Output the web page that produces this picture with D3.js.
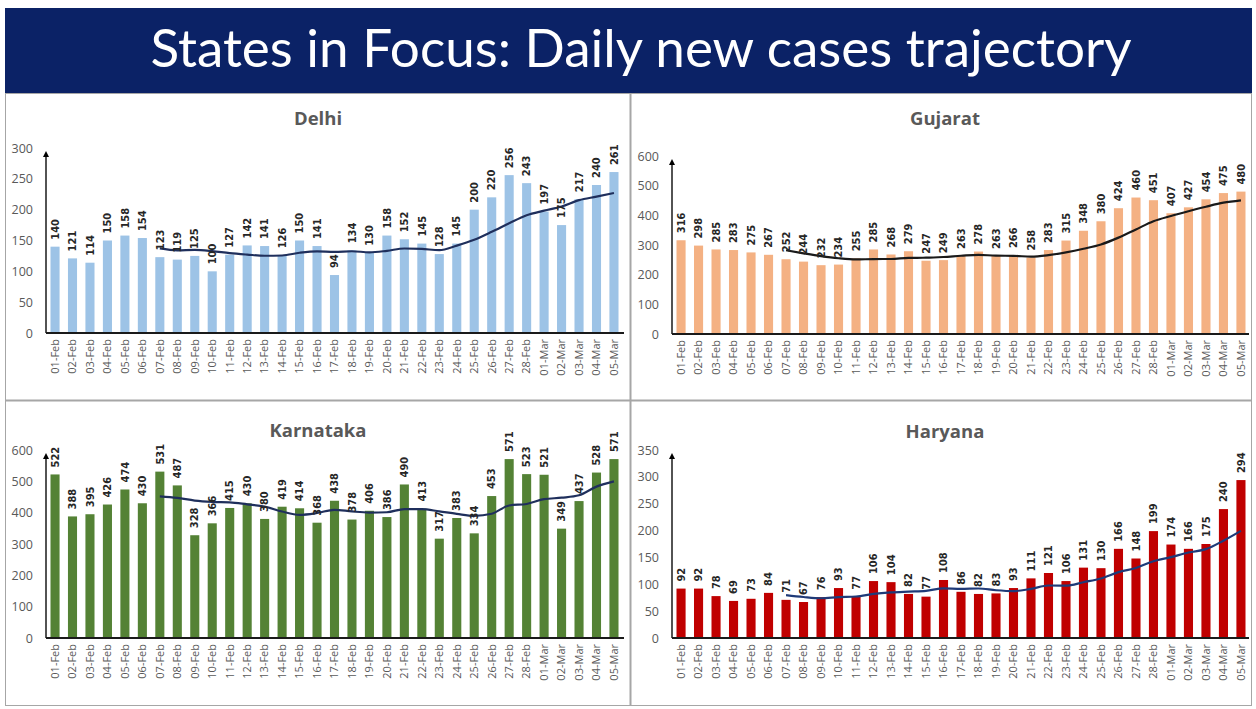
<!DOCTYPE html>
<html><head><meta charset="utf-8">
<script src="https://cdn.jsdelivr.net/npm/d3@7"></script>
<style>
html,body{margin:0;padding:0;background:#fff;}
svg{display:block;}
</style>
</head><body>
<svg id="c" width="1256" height="709"></svg>
<script>
const dates = ["01-Feb","02-Feb","03-Feb","04-Feb","05-Feb","06-Feb","07-Feb","08-Feb","09-Feb","10-Feb","11-Feb","12-Feb","13-Feb","14-Feb","15-Feb","16-Feb","17-Feb","18-Feb","19-Feb","20-Feb","21-Feb","22-Feb","23-Feb","24-Feb","25-Feb","26-Feb","27-Feb","28-Feb","01-Mar","02-Mar","03-Mar","04-Mar","05-Mar"];
const delhi = [140,121,114,150,158,154,123,119,125,100,127,142,141,126,150,141,94,134,130,158,152,145,128,145,200,220,256,243,197,175,217,240,261];
const gujarat = [316,298,285,283,275,267,252,244,232,234,255,285,268,279,247,249,263,278,263,266,258,283,315,348,380,424,460,451,407,427,454,475,480];
const karnataka = [522,388,395,426,474,430,531,487,328,366,415,430,380,419,414,368,438,378,406,386,490,413,317,383,334,453,571,523,521,349,437,528,571];
const haryana = [92,92,78,69,73,84,71,67,76,93,77,106,104,82,77,108,86,82,83,93,111,121,106,131,130,166,148,199,174,166,175,240,294];
const delhiTicks = [0,50,100,150,200,250,300];
const gujaratTicks = [0,100,200,300,400,500,600];
const karnatakaTicks = [0,100,200,300,400,500,600];
const haryanaTicks = [0,50,100,150,200,250,300,350];
const title = "States in Focus: Daily new cases trajectory";

const svg = d3.select("#c");

// banner
svg.append("rect").attr("x",5).attr("y",8).attr("width",1247).attr("height",85).attr("fill","#0b2266");
svg.append("text").attr("x",641).attr("y",67).attr("text-anchor","middle")
  .attr("fill","#fff").attr("font-family","Lato, 'Open Sans', sans-serif")
  .attr("font-size",53).text(title);

// panel borders
const bc = "#a6a6a6";
svg.append("rect").attr("x",5.5).attr("y",93.5).attr("width",1246).attr("height",612).attr("fill","none").attr("stroke",bc);
svg.append("line").attr("x1",630.5).attr("x2",630.5).attr("y1",93).attr("y2",706).attr("stroke",bc).attr("stroke-width",2);
svg.append("line").attr("x1",5).attr("x2",1252).attr("y1",400.5).attr("y2",400.5).attr("stroke",bc).attr("stroke-width",2);

const defs = svg.append("defs");
defs.append("marker").attr("id","arrow").attr("viewBox","0 0 10 10").attr("refX",5).attr("refY",5)
  .attr("markerWidth",4).attr("markerHeight",4).attr("orient","auto")
  .append("path").attr("d","M0,0 L10,5 L0,10 z").attr("fill","#000");

const panels = [
  {name:"Delhi", data:delhi, ticks:delhiTicks, color:"#9dc3e6", line:"#1f2f5c", axisX:46, xr:[46.3,622.7], y0:333, yTop:148, titleX:318, titleY:125, xEnd:624},
  {name:"Gujarat", data:gujarat, ticks:gujaratTicks, color:"#f4b183", line:"#1a1a1a", axisX:672, xr:[672.3,1249.7], y0:334, yTop:156, titleX:945, titleY:125, xEnd:1249},
  {name:"Karnataka", data:karnataka, ticks:karnatakaTicks, color:"#548235", line:"#1f2f5c", axisX:46, xr:[46.3,622.7], y0:638, yTop:450, titleX:318, titleY:437, xEnd:624},
  {name:"Haryana", data:haryana, ticks:haryanaTicks, color:"#c00000", line:"#1f3a78", axisX:672, xr:[672.3,1249.7], y0:638, yTop:450, titleX:945, titleY:438, xEnd:1249}
];

panels.forEach(p => {
  const g = svg.append("g");
  const x = d3.scaleBand().domain(dates).range(p.xr).paddingInner(0.48).paddingOuter(0.24);
  const ymax = p.ticks[p.ticks.length-1];
  const y = d3.scaleLinear().domain([0,ymax]).range([p.y0,p.yTop]);

  g.append("text").attr("x",p.titleX).attr("y",p.titleY).attr("text-anchor","middle")
    .attr("font-family","'Open Sans', sans-serif").attr("font-weight","bold").attr("font-size",18.5)
    .attr("fill","#595959").text(p.name);

  // y axis labels
  const ya = d3.axisLeft(y).tickValues(p.ticks).tickSize(0).tickPadding(13);
  const yg = g.append("g").attr("transform",`translate(${p.axisX},0)`).call(ya);
  yg.select(".domain").remove();
  yg.selectAll("text").attr("font-family","'Open Sans', sans-serif").attr("font-size",12.5).attr("fill","#595959");

  // bars
  g.selectAll("rect.bar").data(p.data).enter().append("rect")
    .attr("x",(d,i)=>x(dates[i])).attr("width",x.bandwidth())
    .attr("y",d=>y(d)).attr("height",d=>p.y0-y(d)).attr("fill",p.color);

  // 7-day moving average
  const ma = [];
  p.data.forEach((d,i)=>{ if(i>=6){ ma.push({i, v:d3.mean(p.data.slice(i-6,i+1))}); } });
  g.append("path").datum(ma)
    .attr("d", d3.line().x(d=>x(dates[d.i])+x.bandwidth()/2).y(d=>y(d.v)).curve(d3.curveMonotoneX))
    .attr("fill","none").attr("stroke",p.line).attr("stroke-width",2.2);

  // data labels
  g.selectAll("text.lab").data(p.data).enter().append("text")
    .attr("transform",(d,i)=>`translate(${x(dates[i])+x.bandwidth()/2+3.7},${y(d)-7}) rotate(-90)`)
    .attr("font-family","'Liberation Sans Narrow','DejaVu Sans Condensed',sans-serif")
    .attr("font-weight","bold").attr("font-size",11).attr("fill","#262626").text(d=>d);

  // x axis
  const xa = d3.axisBottom(x).tickSize(0).tickPadding(0);
  const xg = g.append("g").attr("transform",`translate(0,${p.y0})`).call(xa);
  xg.select(".domain").remove();
  xg.selectAll("text").attr("transform","rotate(-90)").attr("text-anchor","end")
    .attr("x",-6).attr("y",0).attr("dy","0.35em")
    .attr("font-family","'Open Sans', sans-serif").attr("font-size",11).attr("fill","#595959");
  g.append("line").attr("x1",p.axisX).attr("x2",p.xEnd).attr("y1",p.y0).attr("y2",p.y0)
    .attr("stroke","#1a1a1a").attr("stroke-width",2);
  g.append("line").attr("x1",p.axisX).attr("x2",p.axisX).attr("y1",p.y0).attr("y2",p.yTop+6)
    .attr("stroke","#1a1a1a").attr("stroke-width",1.5).attr("marker-end","url(#arrow)");
});
</script>
</body></html>
